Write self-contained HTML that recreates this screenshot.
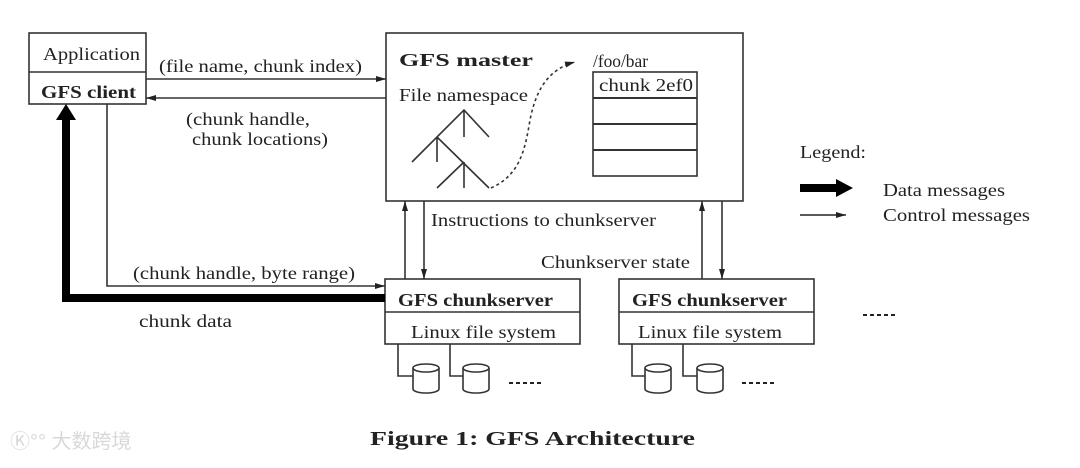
<!DOCTYPE html>
<html><head><meta charset="utf-8"><style>
html,body{margin:0;padding:0;background:#fff;}
svg{display:block;}
text{font-family:"Liberation Serif",serif;fill:#222;}
</style></head><body>
<svg width="1080" height="468" viewBox="0 0 1080 468" xmlns="http://www.w3.org/2000/svg">
<defs>
<marker id="ah" markerWidth="10" markerHeight="8" refX="10" refY="4" orient="auto" markerUnits="userSpaceOnUse">
<path d="M0,1 L10,4 L0,7 Z" fill="#222"/></marker>
</defs>
<g stroke="#333" stroke-width="1.6" fill="none">
<rect x="29" y="33" width="117" height="71"/>
<line x1="29" y1="72" x2="146" y2="72"/>
<rect x="386" y="33" width="357" height="168"/>
<rect x="593" y="72" width="104" height="104"/>
<line x1="593" y1="98" x2="697" y2="98" stroke-width="2"/>
<line x1="593" y1="124" x2="697" y2="124" stroke-width="2"/>
<line x1="593" y1="150" x2="697" y2="150" stroke-width="2"/>
<path d="M412,162 L464,110 L489,137 M464,110 L464,137 M437,137 L437,162 M437,137 L489,188 M464,162 L437,188 M464,162 L464,188"/>
<path d="M491,188 C520,175 525,150 530,120 C535,95 545,70 575,62" stroke-dasharray="3,3" marker-end="url(#ah)"/>
<line x1="146" y1="79" x2="386" y2="79" marker-end="url(#ah)"/>
<line x1="386" y1="98" x2="146" y2="98" marker-end="url(#ah)"/>
<polyline points="107,104 107,286 385,286" marker-end="url(#ah)"/>
<rect x="385" y="279" width="195" height="65"/>
<line x1="385" y1="312" x2="580" y2="312"/>
<rect x="619" y="279" width="195" height="65"/>
<line x1="619" y1="312" x2="814" y2="312"/>
<line x1="405" y1="279" x2="405" y2="201" marker-end="url(#ah)"/>
<line x1="424" y1="201" x2="424" y2="279" marker-end="url(#ah)"/>
<line x1="702" y1="279" x2="702" y2="201" marker-end="url(#ah)"/>
<line x1="722" y1="201" x2="722" y2="279" marker-end="url(#ah)"/>
<polyline points="398,344 398,376 413,376"/>
<polyline points="450,344 450,376 463,376"/>
<polyline points="632,344 632,376 645,376"/>
<polyline points="683,344 683,376 697,376"/>
</g>
<g stroke="#333" stroke-width="1.6" fill="#fff">
<path d="M413,368 L413,389 A13,4 0 0 0 439,389 L439,368"/><ellipse cx="426" cy="368" rx="13" ry="4"/>
<path d="M463,368 L463,389 A13,4 0 0 0 489,389 L489,368"/><ellipse cx="476" cy="368" rx="13" ry="4"/>
<path d="M645,368 L645,389 A13,4 0 0 0 671,389 L671,368"/><ellipse cx="658" cy="368" rx="13" ry="4"/>
<path d="M697,368 L697,389 A13,4 0 0 0 723,389 L723,368"/><ellipse cx="710" cy="368" rx="13" ry="4"/>
</g>
<g stroke="#222" stroke-width="2" stroke-dasharray="4,3">
<line x1="509" y1="383" x2="543" y2="383"/>
<line x1="742" y1="383" x2="776" y2="383"/>
<line x1="863" y1="315" x2="897" y2="315"/>
</g>
<polyline points="385,298 66,298 66,118" fill="none" stroke="#000" stroke-width="8"/>
<path d="M56,120 L66,104 L76,120 Z" fill="#000"/>
<rect x="800" y="184" width="38" height="8" fill="#000"/>
<path d="M836,179 L853,188 L836,197 Z" fill="#000"/>
<line x1="800" y1="215" x2="846" y2="215" stroke="#222" stroke-width="1.6" marker-end="url(#ah)"/>
<g font-size="18" lengthAdjust="spacingAndGlyphs">
<text x="43" y="60" textLength="97" lengthAdjust="spacingAndGlyphs">Application</text>
<text x="41" y="98" font-weight="bold" textLength="95" lengthAdjust="spacingAndGlyphs">GFS client</text>
<text x="159" y="72" textLength="203" lengthAdjust="spacingAndGlyphs">(file name, chunk index)</text>
<text x="186" y="125" textLength="124" lengthAdjust="spacingAndGlyphs">(chunk handle,</text>
<text x="192" y="145" textLength="136" lengthAdjust="spacingAndGlyphs">chunk locations)</text>
<text x="399" y="66" font-weight="bold" textLength="134" lengthAdjust="spacingAndGlyphs">GFS master</text>
<text x="399" y="101" textLength="129" lengthAdjust="spacingAndGlyphs">File namespace</text>
<text x="593" y="67" textLength="55" lengthAdjust="spacingAndGlyphs">/foo/bar</text>
<text x="599" y="91" textLength="94" lengthAdjust="spacingAndGlyphs">chunk 2ef0</text>
<text x="431" y="226" textLength="225" lengthAdjust="spacingAndGlyphs">Instructions to chunkserver</text>
<text x="541" y="268" textLength="149" lengthAdjust="spacingAndGlyphs">Chunkserver state</text>
<text x="133" y="279" textLength="222" lengthAdjust="spacingAndGlyphs">(chunk handle, byte range)</text>
<text x="139" y="327" textLength="93" lengthAdjust="spacingAndGlyphs">chunk data</text>
<text x="398" y="306" font-weight="bold" textLength="155" lengthAdjust="spacingAndGlyphs">GFS chunkserver</text>
<text x="411" y="338" textLength="145" lengthAdjust="spacingAndGlyphs">Linux file system</text>
<text x="632" y="306" font-weight="bold" textLength="155" lengthAdjust="spacingAndGlyphs">GFS chunkserver</text>
<text x="638" y="338" textLength="144" lengthAdjust="spacingAndGlyphs">Linux file system</text>
<text x="800" y="158" textLength="66" lengthAdjust="spacingAndGlyphs">Legend:</text>
<text x="883" y="196" textLength="122" lengthAdjust="spacingAndGlyphs">Data messages</text>
<text x="883" y="221" textLength="147" lengthAdjust="spacingAndGlyphs">Control messages</text>
</g>
<text x="370" y="445" font-size="20" font-weight="bold" textLength="325" lengthAdjust="spacingAndGlyphs">Figure 1:  GFS Architecture</text>
<text x="10" y="448" font-size="20" style="font-family:'Liberation Sans','Noto Sans CJK SC',sans-serif;fill:#d8d8d8">Ⓚ°° 大数跨境</text>
</svg>
</body></html>
